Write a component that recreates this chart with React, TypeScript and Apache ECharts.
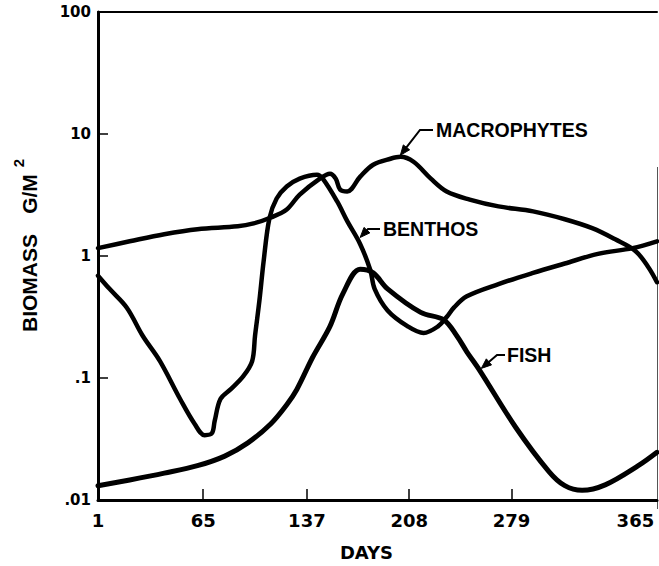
import React, { useEffect, useRef } from 'react';
import * as echarts from 'echarts';

// [day, biomass g/m²]
const macrophytes: [number, number][] = [
  [-8, 1.16], [14, 1.32], [38, 1.51], [61, 1.66], [89, 1.75], [100, 1.85], [112, 2.07],
  [123, 2.41], [132, 3.19], [146, 4.31], [153, 4.73], [157, 4.31], [160, 3.51], [165, 3.38],
  [174, 4.47], [183, 5.6], [195, 6.27], [202, 6.5], [211, 5.92], [223, 4.31], [234, 3.38],
  [250, 2.9], [270, 2.55], [294, 2.32], [316, 2.0], [335, 1.69], [351, 1.37], [365, 1.1],
  [374, 0.81], [380, 0.61],
];

const benthos: [number, number][] = [
  [-8, 0.69], [0, 0.538], [12, 0.377], [23, 0.222], [35, 0.1375], [49, 0.0673], [59, 0.0422],
  [66, 0.034], [71, 0.0352], [73, 0.0445], [77, 0.0673], [84, 0.0806], [93, 0.104],
  [99, 0.1375], [101, 0.222], [104, 0.427], [107, 0.915], [111, 2.04], [116, 2.96],
  [123, 3.71], [132, 4.31], [144, 4.64], [148, 4.31], [158, 2.8], [165, 1.93], [174, 1.25],
  [181, 0.767], [184, 0.538], [193, 0.358], [207, 0.265], [218, 0.234], [228, 0.265],
  [234, 0.316], [239, 0.377], [248, 0.467], [270, 0.588], [294, 0.727], [316, 0.868],
  [339, 1.04], [363, 1.16], [380, 1.32],
];

const fish: [number, number][] = [
  [-8, 0.0131], [14, 0.0146], [38, 0.0166], [61, 0.0191], [80, 0.0229], [96, 0.0294],
  [112, 0.0422], [123, 0.0604], [130, 0.0806], [141, 0.148], [153, 0.265], [162, 0.492],
  [174, 0.78], [183, 0.727], [193, 0.538], [216, 0.345], [232, 0.3], [241, 0.222],
  [248, 0.164], [257, 0.115], [282, 0.0393], [305, 0.0171], [316, 0.0131], [328, 0.012],
  [344, 0.0133], [367, 0.0191], [380, 0.0246],
];

const seriesNames = ['MACROPHYTES', 'BENTHOS', 'FISH'];
const xTickDays = [65, 137, 208, 279];
const xLabelDays = [-8, 65, 137, 208, 279, 365];
const xLabelTexts = ['1', '65', '137', '208', '279', '365'];
const xMin = -8;
const xMax = 380;
const yMin = 0.01;
const yMax = 100;
const xTitle = 'DAYS';
const yTitleMain = 'BIOMASS';
const yTitleUnit = 'G/M';
const yTitleSup = '2';

// callouts: target point on curve (data), label placement (pixels)
const callouts = [
  { label: 'MACROPHYTES', target: [201, 6.5], labelX: 436, labelY: 130, dashX0: 420, dashX1: 433 },
  { label: 'BENTHOS', target: [173, 1.38], labelX: 383, labelY: 229, dashX0: 368, dashX1: 380 },
  { label: 'FISH', target: [257, 0.117], labelX: 507, labelY: 355, dashX0: 497, dashX1: 505 },
];

const TICK_FONT = '"DejaVu Sans", sans-serif';
const NOTE_FONT = '"Liberation Sans", Arial, sans-serif';

function fmtLog(v: number): string {
  const n = Number(v.toPrecision(6));
  if (n < 1) return String(n).replace(/^0\./, '.');
  return String(n);
}

export default function App() {
  const ref = useRef<HTMLDivElement>(null);
  useEffect(() => {
    const chart = echarts.init(ref.current!, null, { renderer: 'svg' });
    const lineSeries = (name: string, data: [number, number][], width: number) => ({
      name,
      type: 'line',
      data,
      xAxisIndex: 0,
      yAxisIndex: 0,
      smooth: 0.35,
      showSymbol: false,
      symbol: 'none',
      lineStyle: { color: '#000', width, cap: 'round', join: 'round' },
      z: 3,
    });
    chart.setOption({
      animation: false,
      backgroundColor: '#fff',
      grid: { left: 98, right: 2, top: 12, bottom: 57, containLabel: false },
      xAxis: [
        {
          type: 'value',
          min: xMin,
          max: xMax,
          position: 'bottom',
          name: xTitle,
          nameLocation: 'middle',
          nameGap: 43,
          nameTextStyle: {
            fontFamily: TICK_FONT,
            fontWeight: 'bold',
            fontSize: 18,
            color: '#000',
            padding: [0, 22, 0, 0],
          },
          axisLine: { show: true, onZero: false, lineStyle: { color: '#000', width: 3 } },
          axisTick: {
            show: true,
            inside: true,
            length: 11,
            customValues: xTickDays,
            lineStyle: { color: '#000', width: 1.5 },
          },
          axisLabel: {
            customValues: xLabelDays,
            formatter: (v: number) => {
              const i = xLabelDays.indexOf(v);
              return i >= 0 ? xLabelTexts[i] : '';
            },
            fontFamily: TICK_FONT,
            fontWeight: 'bold',
            fontSize: 18,
            color: '#000',
            margin: 11,
          },
          splitLine: { show: false },
        },
        {
          type: 'value',
          min: xMin,
          max: xMax,
          position: 'top',
          axisLine: { show: true, onZero: false, lineStyle: { color: '#000', width: 2 } },
          axisTick: { show: false },
          axisLabel: { show: false },
          splitLine: { show: false },
        },
      ],
      yAxis: {
        type: 'log',
        logBase: 10,
        min: yMin,
        max: yMax,
        axisLine: { show: true, onZero: false, lineStyle: { color: '#000', width: 3 } },
        axisTick: { show: true, inside: true, length: 10, lineStyle: { color: '#000', width: 1.5 } },
        axisLabel: {
          formatter: (v: number) => fmtLog(v),
          fontFamily: TICK_FONT,
          fontWeight: 'bold',
          fontSize: 15,
          color: '#000',
          margin: 7,
        },
        splitLine: { show: false },
      },
      series: [
        lineSeries(seriesNames[0], macrophytes, 4.5),
        lineSeries(seriesNames[1], benthos, 4.5),
        lineSeries(seriesNames[2], fish, 5),
      ],
    });

    const graphics: any[] = [];
    // partial right border
    graphics.push({
      type: 'line',
      shape: { x1: 657.5, y1: 167, x2: 657.5, y2: 509 },
      style: { stroke: '#555', lineWidth: 1 },
      silent: true,
    });
    // y title
    graphics.push({
      type: 'text',
      x: 29,
      y: 332,
      rotation: Math.PI / 2,
      style: {
        text: yTitleMain,
        font: `bold 21px ${NOTE_FONT}`,
        textAlign: 'left',
        align: 'left',
        textVerticalAlign: 'middle',
        verticalAlign: 'middle',
        fill: '#000',
      },
    });
    graphics.push({
      type: 'text',
      x: 29,
      y: 194,
      rotation: Math.PI / 2,
      style: {
        text: yTitleUnit,
        font: `bold 21px ${NOTE_FONT}`,
        textAlign: 'center',
        align: 'center',
        textVerticalAlign: 'middle',
        verticalAlign: 'middle',
        fill: '#000',
      },
    });
    graphics.push({
      type: 'text',
      x: 18,
      y: 163,
      rotation: Math.PI / 2,
      style: {
        text: yTitleSup,
        font: `bold 15px ${NOTE_FONT}`,
        textAlign: 'center',
        align: 'center',
        textVerticalAlign: 'middle',
        verticalAlign: 'middle',
        fill: '#000',
      },
    });

    callouts.forEach((c) => {
      const p = chart.convertToPixel({ xAxisIndex: 0, yAxisIndex: 0 }, c.target) as number[];
      const sx = c.dashX0;
      const sy = c.labelY;
      let dx = p[0] - sx;
      let dy = p[1] - sy;
      const len = Math.sqrt(dx * dx + dy * dy);
      dx /= len;
      dy /= len;
      const tipX = p[0] - dx * 2;
      const tipY = p[1] - dy * 2;
      const headLen = 10;
      const headW = 4;
      const bx = tipX - dx * headLen;
      const by = tipY - dy * headLen;
      const nx = -dy;
      const ny = dx;
      graphics.push({
        type: 'polyline',
        shape: { points: [[c.dashX1, sy], [sx, sy], [bx + dx * 2, by + dy * 2]] },
        style: { stroke: '#000', lineWidth: 2, fill: null },
        z: 10,
      });
      graphics.push({
        type: 'polygon',
        shape: { points: [[tipX, tipY], [bx + nx * headW, by + ny * headW], [bx - nx * headW, by - ny * headW]] },
        style: { fill: '#000', stroke: '#000', lineWidth: 1 },
        z: 10,
      });
      graphics.push({
        type: 'text',
        x: c.labelX,
        y: c.labelY,
        style: {
          text: c.label,
          font: `bold 19.5px ${NOTE_FONT}`,
          textAlign: 'left',
          align: 'left',
          textVerticalAlign: 'middle',
          verticalAlign: 'middle',
          fill: '#000',
        },
        z: 10,
      });
    });
    chart.setOption({ graphic: graphics });
    return () => chart.dispose();
  }, []);
  return (
    <div
      ref={ref}
      style={{ position: 'fixed', left: 0, top: 0, width: 659, height: 566, background: '#fff' }}
    />
  );
}
